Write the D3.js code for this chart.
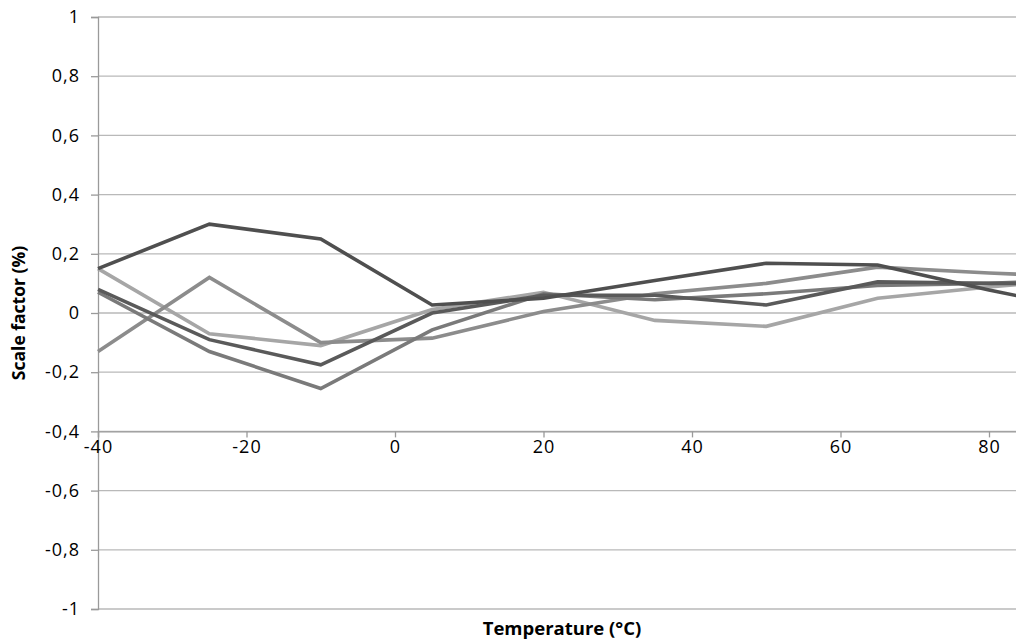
<!DOCTYPE html>
<html>
<head>
<meta charset="utf-8">
<script src="https://cdn.jsdelivr.net/npm/d3@7"></script>
<style>
  body { margin: 0; background: #fff; }
  svg { display: block; }
  text { font-family: "Open Sans", "Liberation Sans", sans-serif; fill: #000; }
</style>
</head>
<body>
<div id="chart"></div>
<script>
// Data
const temps = [-40, -25, -10, 5, 20, 35, 50, 65, 80, 95];
const seriesA = [0.15, 0.30, 0.25, 0.027, 0.05, 0.11, 0.168, 0.162, 0.078, 0.0];
const seriesB = [0.08, -0.09, -0.175, 0.0, 0.06, 0.06, 0.027, 0.105, 0.10, 0.10];
const seriesC = [-0.13, 0.12, -0.10, -0.085, 0.005, 0.065, 0.10, 0.155, 0.135, 0.12];
const seriesD = [0.15, -0.07, -0.11, 0.012, 0.07, -0.025, -0.045, 0.05, 0.088, 0.12];
const seriesE = [0.07, -0.13, -0.255, -0.057, 0.065, 0.045, 0.065, 0.093, 0.10, 0.115];
const yTicks = [-1, -0.8, -0.6, -0.4, -0.2, 0, 0.2, 0.4, 0.6, 0.8, 1];
const xTicks = [-40, -20, 0, 20, 40, 60, 80];

const series = [
    { values: seriesD, color: '#a6a6a6' },
    { values: seriesC, color: '#8c8c8c' },
    { values: seriesE, color: '#7a7a7a' },
    { values: seriesB, color: '#5a5a5a' },
    { values: seriesA, color: '#4f4f4f' }
];

const width = 1016, height = 644;
const svg = d3.select('#chart').append('svg')
    .attr('width', width)
    .attr('height', height);

// the picture is cropped on the right, the axis runs past the edge
const x = d3.scaleLinear().domain([-40, 100]).range([98, 98 + 140 * 7.425]);
const y = d3.scaleLinear().domain([-1, 1]).range([609, 17]);

const fmt = v => (Math.round(v * 10) / 10).toString().replace('.', ',');

// Horizontal gridlines
svg.append('g')
    .selectAll('line')
    .data(yTicks)
    .enter()
    .append('line')
    .attr('x1', x(-40))
    .attr('x2', width)
    .attr('y1', d => y(d))
    .attr('y2', d => y(d))
    .attr('stroke', '#b9b9b9')
    .attr('stroke-width', 1.3);

// Y axis
const yAxis = svg.append('g')
    .attr('transform', `translate(${x(-40)},0)`)
    .call(d3.axisLeft(y).tickValues(yTicks).tickSize(7).tickPadding(11).tickFormat(fmt));
yAxis.select('.domain').attr('stroke', '#9a9a9a').attr('stroke-width', 1.3);
yAxis.selectAll('.tick line').attr('stroke', '#9a9a9a').attr('stroke-width', 1.3);
yAxis.selectAll('.tick text')
    .attr('font-size', 18)
    .attr('letter-spacing', 1)
    .attr('font-family', '"Open Sans", sans-serif');

// X axis crosses at -0.4
const xAxis = svg.append('g')
    .attr('transform', `translate(0,${y(-0.4)})`)
    .call(d3.axisBottom(x).tickValues(xTicks).tickSize(6).tickPadding(3).tickFormat(d => d));
xAxis.select('.domain').attr('stroke', '#9a9a9a').attr('stroke-width', 1.3);
xAxis.selectAll('.tick line').attr('stroke', '#9a9a9a').attr('stroke-width', 1.3);
xAxis.selectAll('.tick text')
    .attr('font-size', 18)
    .attr('letter-spacing', 1)
    .attr('font-family', '"Open Sans", sans-serif');

// Lines
const line = d3.line()
    .x((d, i) => x(temps[i]))
    .y(d => y(d));

svg.append('g')
    .selectAll('path')
    .data(series)
    .enter()
    .append('path')
    .attr('d', d => line(d.values))
    .attr('fill', 'none')
    .attr('stroke', d => d.color)
    .attr('stroke-width', 3.6)
    .attr('stroke-linejoin', 'miter');

// Axis titles
svg.append('text')
    .attr('transform', `translate(25,${y(0)}) rotate(-90)`)
    .attr('text-anchor', 'middle')
    .attr('font-size', 17.5)
    .attr('font-weight', 'bold')
    .text('Scale factor (%)');

svg.append('text')
    .attr('x', 562)
    .attr('y', 635)
    .attr('text-anchor', 'middle')
    .attr('font-size', 18.5)
    .attr('font-weight', 'bold')
    .text('Temperature (°C)');
</script>
</body>
</html>
